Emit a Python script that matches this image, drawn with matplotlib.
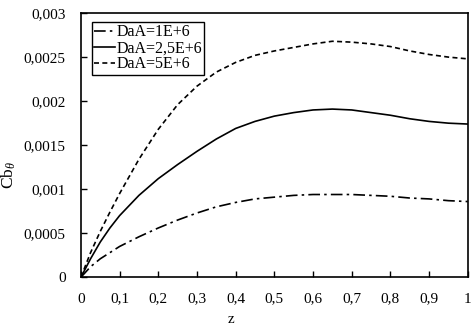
import numpy as np
import matplotlib.pyplot as plt
from matplotlib.ticker import FuncFormatter

plt.rcParams.update({
    "font.family": ["Liberation Serif", "DejaVu Serif"],
    "mathtext.fontset": "custom",
    "mathtext.rm": "Liberation Serif",
    "mathtext.it": "Liberation Serif:italic",
})

z = [0.0, 0.025, 0.05, 0.075, 0.1, 0.15, 0.2, 0.25, 0.3, 0.35, 0.4, 0.45, 0.5,
     0.55, 0.6, 0.65, 0.7, 0.75, 0.8, 0.85, 0.9, 0.95, 1.0]
cb_1e6 = [0.0, 0.00012, 0.00021, 0.00028, 0.00035, 0.00046, 0.00056, 0.00065, 0.00073, 0.00080, 0.00085,
          0.00089, 0.00091, 0.00093, 0.00094, 0.00094, 0.00094, 0.00093, 0.00092, 0.00090, 0.00089,
          0.00087, 0.00086]
cb_25e6 = [0.0, 0.00021, 0.00040, 0.00056, 0.00070, 0.00093, 0.00112, 0.00128, 0.00143, 0.00157, 0.00169,
           0.00177, 0.00183, 0.00187, 0.00190, 0.00191, 0.00190, 0.00187, 0.00184, 0.00180, 0.00177,
           0.00175, 0.00174]
cb_5e6 = [0.0, 0.00028, 0.00052, 0.00074, 0.00095, 0.00134, 0.00168, 0.00196, 0.00217, 0.00233, 0.00244,
          0.00252, 0.00257, 0.00261, 0.00265, 0.00268, 0.00267, 0.00265, 0.00262, 0.00257, 0.00253,
          0.00250, 0.00248]
labels = ["DaA=1E+6", "DaA=2,5E+6", "DaA=5E+6"]

fig = plt.figure(figsize=(4.73, 3.27), dpi=100)
ax = fig.add_axes([0.171, 0.152, 0.818, 0.808])

ax.plot(z, cb_1e6, color="black", lw=1.2, dashes=(7, 2.5, 1.5, 2.5), label=labels[0])
ax.plot(z, cb_25e6, color="black", lw=1.2, solid_joinstyle="round", label=labels[1])
ax.plot(z, cb_5e6, color="black", lw=1.2, dashes=(3, 2), label=labels[2])

ax.set_xlim(0, 1)
ax.set_ylim(0, 0.003)
ax.set_xticks(np.arange(0, 1.01, 0.1))
ax.set_yticks(np.arange(0, 0.00301, 0.0005))

def comma(v, pos):
    s = "%.4f" % v
    s = s.rstrip("0").rstrip(".")
    return s.replace(".", ",")

ax.xaxis.set_major_formatter(FuncFormatter(comma))
ax.yaxis.set_major_formatter(FuncFormatter(comma))
ax.tick_params(direction="in", length=4, width=1, labelsize=11)
ax.tick_params(axis="x", pad=11)
ax.tick_params(axis="y", pad=11)
for s in ax.spines.values():
    s.set_linewidth(1.2)

ax.set_xlabel("z", fontsize=11)
ax.set_ylabel(r"Cb$_\theta$", fontsize=12.5)
ax.xaxis.set_label_coords(0.388, -0.135)
ax.yaxis.set_label_coords(-0.163, 0.386)

leg = ax.legend(loc="upper left", bbox_to_anchor=(0.028, 0.966), fontsize=11.5,
                handlelength=1.3, handletextpad=0.1, borderpad=0.15, labelspacing=0.0,
                borderaxespad=0.0, fancybox=False, edgecolor="black", framealpha=1)
leg.get_frame().set_linewidth(1.0)

fig.savefig("out.png", dpi=100)
